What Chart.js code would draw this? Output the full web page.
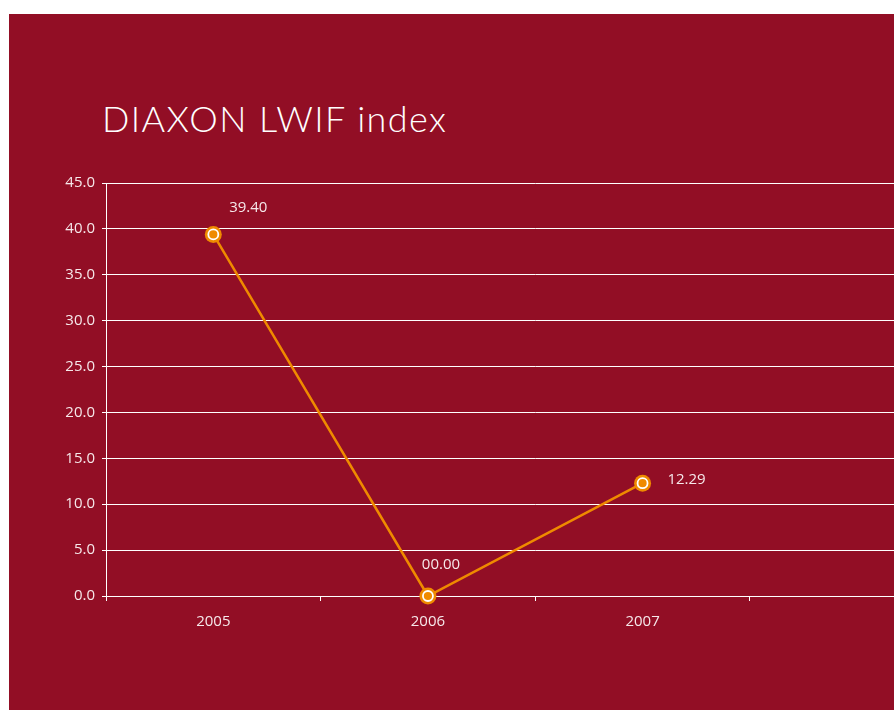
<!DOCTYPE html>
<html>
<head>
<meta charset="utf-8">
<script src="https://cdn.jsdelivr.net/npm/chart.js@4/dist/chart.umd.min.js"></script>
<style>
  body { margin: 0; background: #fff; }
  #panel { position: absolute; left: 9px; top: 14px; width: 885px; height: 696px; background: #920e25; overflow: hidden; }
  #title { position: absolute; left: 93px; top: 82px; color: #fff; font: 300 36px "Lato", sans-serif; letter-spacing: 1.4px; white-space: nowrap; }
  #chartBox { position: absolute; left: 0; top: 0; }
</style>
</head>
<body>
<div id="panel">
  <div id="title">DIAXON LWIF index</div>
  <div id="chartBox"><canvas id="lwifChart" width="964" height="696"></canvas></div>
</div>
<script>
// chart data
const years = ["2005", "2006", "2007", ""];
const indexValues = [39.40, 0.00, 12.29];
const yTicks = { min: 0, max: 45, step: 5 };

const orange = "#ef8a00";
const labelColor = "#f6e8ea";

// value labels next to each point (dx, dy from the point)
const valueLabels = {
    id: "valueLabels",
    afterDatasetsDraw(chart) {
        const offsets = [[35, -27], [13, -31], [44, -3]];
        const meta = chart.getDatasetMeta(0);
        const ctx = chart.ctx;
        ctx.save();
        ctx.font = "15px 'Open Sans', sans-serif";
        ctx.fillStyle = labelColor;
        ctx.textAlign = "center";
        ctx.textBaseline = "middle";
        meta.data.forEach((pt, i) => {
            let txt = indexValues[i].toFixed(2).padStart(5, "0");
            ctx.fillText(txt, pt.x + offsets[i][0], pt.y + offsets[i][1]);
        });
        ctx.restore();
    }
};

let ctx = document.getElementById("lwifChart").getContext("2d");
let lwifChart = new Chart(ctx, {
    type: "line",
    data: {
        labels: years,
        datasets: [{
            label: "DIAXON LWIF index",
            data: indexValues,
            borderColor: orange,
            borderWidth: 2.5,
            pointRadius: 8.5,
            pointBackgroundColor: orange,
            pointBorderWidth: 0,
            fill: false,
            clip: false,
            order: 2
        }, {
            label: "points",
            data: indexValues,
            showLine: false,
            pointRadius: 5,
            pointBackgroundColor: orange,
            pointBorderColor: "#ffffff",
            pointBorderWidth: 1.8,
            clip: false,
            order: 1
        }]
    },
    options: {
        responsive: false,
        devicePixelRatio: 1,
        animation: false,
        layout: { padding: { top: 169, right: 6, left: 0, bottom: 0 } },
        plugins: {
            legend: { display: false },
            tooltip: { enabled: false }
        },
        scales: {
            x: {
                offset: true,
                grid: { offset: true, drawOnChartArea: false, drawTicks: true, tickLength: 5, color: "#ffffff" },
                border: { color: "#ffffff", width: 1 },
                ticks: { color: labelColor, font: { family: "'Open Sans', sans-serif", size: 15 }, padding: 12, maxRotation: 0 },
                afterFit(scale) { scale.height = 114; }
            },
            y: {
                min: yTicks.min,
                max: yTicks.max,
                grid: { color: "#ffffff", lineWidth: 1, tickLength: 4 },
                border: { color: "#ffffff", width: 1 },
                ticks: {
                    stepSize: yTicks.step,
                    color: labelColor,
                    font: { family: "'Open Sans', sans-serif", size: 15 },
                    padding: 7,
                    callback: v => v.toFixed(1)
                },
                afterFit(scale) { scale.width = 97; }
            }
        }
    },
    plugins: [valueLabels]
});
</script>
</body>
</html>
